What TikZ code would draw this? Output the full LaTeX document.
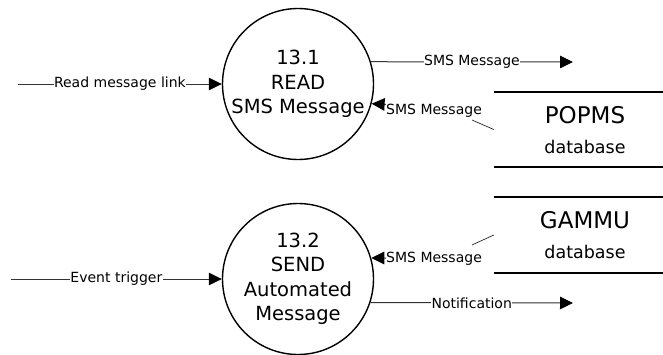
\documentclass[tikz,border=0pt]{standalone}
\usepackage{fontspec}
\setmainfont{DejaVu Sans}
\usetikzlibrary{arrows.meta}
\begin{document}
\begin{tikzpicture}[x=1pt,y=-1pt,
  proc/.style={circle,draw=black,line width=1.4pt,minimum size=151pt,inner sep=0pt,align=center,font=\fontsize{19.5}{24.5}\selectfont},
  conn/.style={draw=black!80,line width=1pt},
  arr/.style={conn,-{Triangle[length=13pt,width=12.5pt,color=black]}},
  lbl/.style={fill=white,inner sep=0.5pt,font=\fontsize{14}{16}\selectfont},
  dbname/.style={font=\fontsize{23}{26}\selectfont,anchor=base,inner sep=0pt},
  dbsub/.style={font=\fontsize{17.5}{20}\selectfont,anchor=base,inner sep=0pt},
  dbbox/.style={minimum width=169pt,minimum height=75pt,inner sep=0pt},
  dbline/.style={draw=black,line width=1.7pt},
  lead/.style={draw=black!85,line width=0.7pt}
]
\useasboundingbox (0,0) rectangle (663,354);

% processes
\node[proc] (c1) at (298,84) {13.1\\READ\\SMS Message};
\node[proc] (c2) at (298,279) {13.2\\SEND\\Automated\\Message};

% data stores
\node[dbbox] (db1) at (578.5,129.5) {};
\draw[dbline] (db1.north west) -- (db1.north east);
\draw[dbline] (db1.south west) -- (db1.south east);
\node[dbname] (db1n) at (585,123) {POPMS};
\node[dbsub] (db1s) at (585,153) {database};

\node[dbbox] (db2) at (578.5,235) {};
\draw[dbline] (db2.north west) -- (db2.north east);
\draw[dbline] (db2.south west) -- (db2.south east);
\node[dbname] (db2n) at (585,228) {GAMMU};
\node[dbsub] (db2s) at (585,258) {database};

% flows of 13.1
\coordinate (s1) at (18,84);
\draw[arr] (s1) -- node[lbl]{Read message link} (c1.west);

\coordinate (t1) at (573,62);
\draw[arr] (c1.17) -- node[lbl]{SMS Message} (t1);

\node[lbl,anchor=base west,fill=none,inner sep=0pt] (l2) at (386,114) {SMS Message};
\coordinate (a2) at (386,104.5);
\draw[arr] (a2) -- (c1.-15.8);
\coordinate (k2) at (472,120);
\draw[lead] (k2) -- (db1.west);

% flows of 13.2
\node[lbl,anchor=base west,fill=none,inner sep=0pt] (l3) at (386,262) {SMS Message};
\coordinate (a3) at (386,258);
\draw[arr] (a3) -- (c2.16);
\coordinate (k3) at (472,245);
\draw[lead] (k3) -- (db2.west);

\coordinate (e0) at (11,279);
\draw[arr] (e0) -- node[lbl]{Event trigger} (c2.west);

\coordinate (t4) at (573,303);
\draw[arr] (c2.-18.5) -- node[lbl]{Notification} (t4);
\end{tikzpicture}
\end{document}
